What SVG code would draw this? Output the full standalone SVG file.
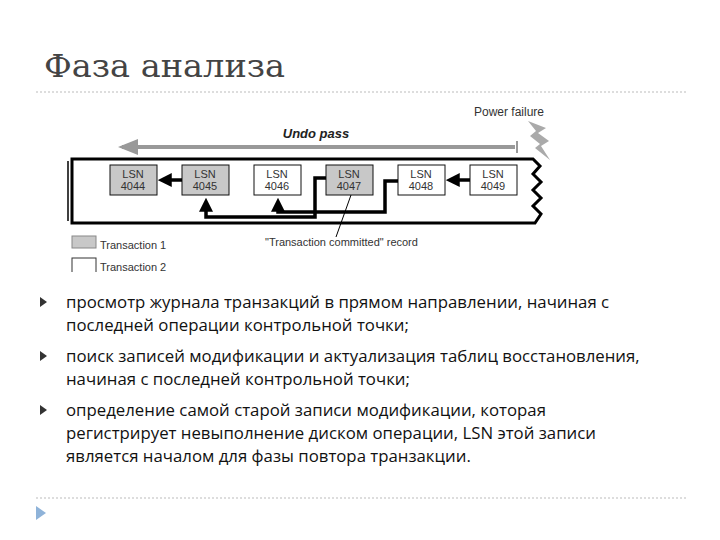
<svg xmlns="http://www.w3.org/2000/svg" width="720" height="540" viewBox="0 0 720 540">
<style>
.t{font-family:"Liberation Sans",Arial,sans-serif}
.lsn{font-family:"Liberation Sans",Arial,sans-serif;font-size:11px;fill:#333;text-anchor:middle}
.box{stroke:#111;stroke-width:1}
.g{fill:#c8c8c8}.w{fill:#fff}
.bul{font-family:"Open Sans","Liberation Sans",sans-serif;font-size:16.8px;fill:#111}
.conn{fill:none;stroke:#000;stroke-width:3.5}
</style>
<defs>
<marker id="ah" markerWidth="4" markerHeight="4" refX="2.5" refY="2" orient="auto" markerUnits="strokeWidth"><path d="M0,0 L4,2 L0,4 Z" fill="#000"/></marker>
<marker id="gah" markerWidth="5" markerHeight="4" refX="4" refY="2" orient="auto" markerUnits="strokeWidth"><path d="M0,0 L5,2 L0,4 Z" fill="#999"/></marker>
</defs>
<rect width="720" height="540" fill="#fff"/>
<text x="44" y="77" font-family="DejaVu Serif,'Liberation Serif',serif" font-size="32" fill="#444" textLength="241" lengthAdjust="spacingAndGlyphs">Фаза анализа</text>
<line x1="36" y1="92" x2="686" y2="92" stroke="#bbb" stroke-dasharray="2,2"/>
<line x1="36" y1="498" x2="686" y2="498" stroke="#bbb" stroke-dasharray="2,2"/>
<path d="M36,506 L46,513 L36,520 Z" fill="#8fb3d9"/>
<g id="log">
<path d="M72,159 H533 L540,166 L533,174 L541,182 L533,190 L541,198 L533,206 L541,214 L535,223 H72 Z" fill="#fff" stroke="#000" stroke-width="3"/>
<line x1="68" y1="161" x2="68" y2="221" stroke="#000" stroke-width="1.5"/>
</g>
<g id="undo">
<line x1="515" y1="147" x2="122" y2="147" stroke="#999" stroke-width="4" marker-end="url(#gah)"/>
<line x1="517" y1="141" x2="517" y2="153" stroke="#999" stroke-width="2"/>
<text x="316" y="138" class="t" font-size="13" font-weight="bold" font-style="italic" text-anchor="middle" fill="#222">Undo pass</text>
</g>
<g id="power">
<text x="509" y="116" class="t" font-size="12" text-anchor="middle" fill="#333">Power failure</text>
<path d="M528,121 L546,128 L538,133 L549,141 L541,146 L550,160 L535,148 L540,144 L530,136 L536,131 Z" fill="#aaa"/>
</g>
<g id="n4044"><rect class="box g" x="110" y="165" width="47" height="30"/><text class="lsn" x="133" y="178">LSN</text><text class="lsn" x="133" y="190">4044</text></g>
<g id="n4045"><rect class="box g" x="182" y="165" width="47" height="30"/><text class="lsn" x="205" y="178">LSN</text><text class="lsn" x="205" y="190">4045</text></g>
<g id="n4046"><rect class="box w" x="254" y="165" width="47" height="30"/><text class="lsn" x="277" y="178">LSN</text><text class="lsn" x="277" y="190">4046</text></g>
<g id="n4047"><rect class="box g" x="326" y="165" width="47" height="30"/><text class="lsn" x="349" y="178">LSN</text><text class="lsn" x="349" y="190">4047</text></g>
<g id="n4048"><rect class="box w" x="398" y="165" width="47" height="30"/><text class="lsn" x="421" y="178">LSN</text><text class="lsn" x="421" y="190">4048</text></g>
<g id="n4049"><rect class="box w" x="470" y="165" width="47" height="30"/><text class="lsn" x="493" y="178">LSN</text><text class="lsn" x="493" y="190">4049</text></g>
<g id="connectors">
<path class="conn" d="M182,180 H163" marker-end="url(#ah)"/>
<path class="conn" d="M470,180 H451" marker-end="url(#ah)"/>
<path class="conn" d="M326,178 H315 V217 H206 V203" marker-end="url(#ah)"/>
<path class="conn" d="M398,181 H385 V212 H278 V203" marker-end="url(#ah)"/>
<line x1="351" y1="195" x2="336" y2="237" stroke="#000" stroke-width="1"/>
</g>
<g id="legend">
<text x="265" y="246" class="t" font-size="11" fill="#333">"Transaction committed" record</text>
<rect x="72" y="236" width="24" height="12" fill="#c8c8c8" stroke="#888"/>
<text x="100" y="249" class="t" font-size="11" fill="#333">Transaction 1</text>
<rect x="72" y="258" width="24" height="16" fill="#fff" stroke="#333"/>
<text x="100" y="271" class="t" font-size="11" fill="#333">Transaction 2</text>
<rect x="60" y="272" width="200" height="8" fill="#fff"/>
</g>
<g id="bullets">
<path d="M40,297 L47,302 L40,307 Z" fill="#333"/>
<text class="bul" x="66" y="308">просмотр журнала транзакций в прямом направлении, начиная с</text>
<text class="bul" x="66" y="331">последней операции контрольной точки;</text>
<path d="M40,351 L47,356 L40,361 Z" fill="#333"/>
<text class="bul" x="66" y="362">поиск записей модификации и актуализация таблиц восстановления,</text>
<text class="bul" x="66" y="385">начиная с последней контрольной точки;</text>
<path d="M40,405 L47,410 L40,415 Z" fill="#333"/>
<text class="bul" x="66" y="416">определение самой старой записи модификации, которая</text>
<text class="bul" x="66" y="439">регистрирует невыполнение диском операции, LSN этой записи</text>
<text class="bul" x="66" y="462">является началом для фазы повтора транзакции.</text>
</g>
</svg>
